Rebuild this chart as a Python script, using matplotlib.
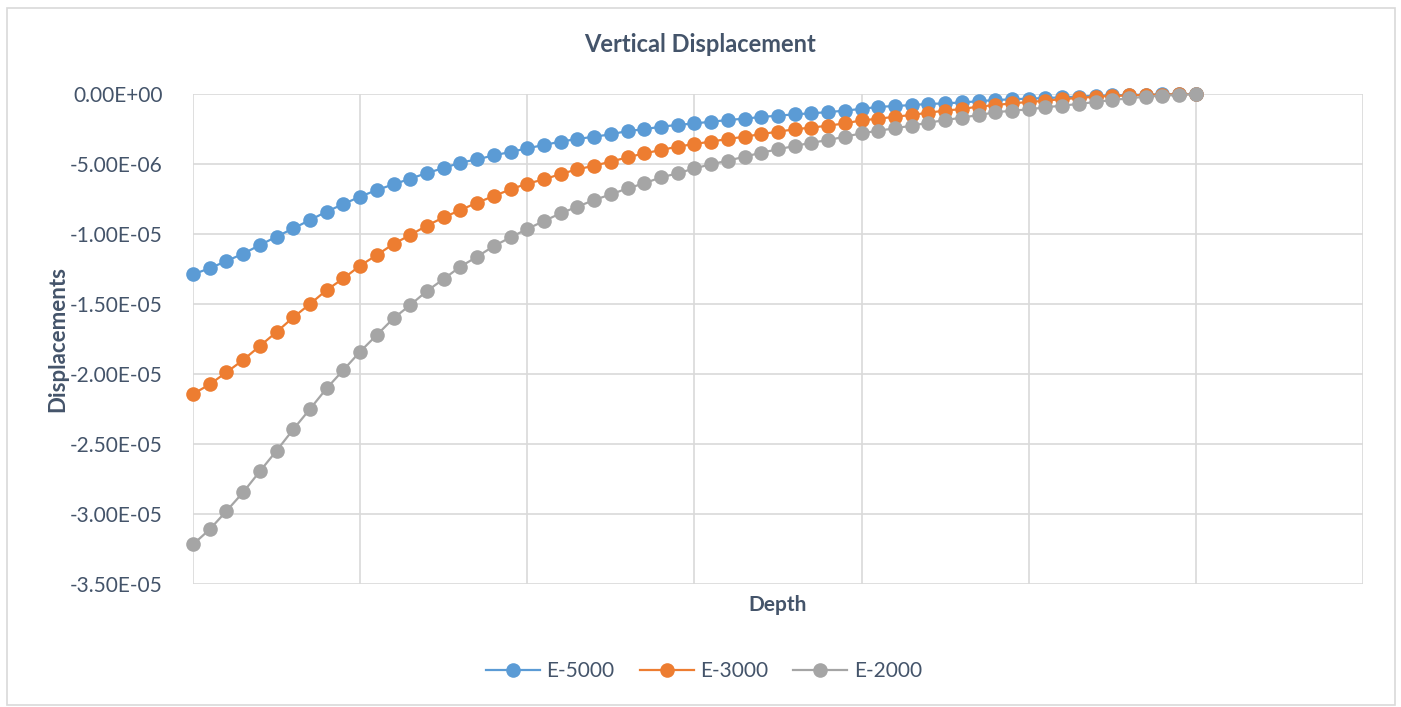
import numpy as np
import matplotlib.pyplot as plt
from matplotlib.patches import Rectangle

# Depth index (61 sample points, no tick labels in the original chart)
depth = np.arange(61)

# Vertical displacement per depth point, in units of 1e-6
e5000 = [-12.88, -12.45, -11.93, -11.41, -10.79, -10.19, -9.60, -9.00, -8.40, -7.86,
         -7.33, -6.86, -6.45, -6.05, -5.64, -5.29, -4.90, -4.67, -4.38, -4.14,
         -3.88, -3.64, -3.40, -3.21, -3.05, -2.88, -2.64, -2.52, -2.33, -2.21,
         -2.10, -1.98, -1.86, -1.76, -1.64, -1.55, -1.45, -1.38, -1.29, -1.19,
         -1.06, -0.92, -0.86, -0.79, -0.71, -0.67, -0.60, -0.52, -0.43, -0.38,
         -0.33, -0.29, -0.24, -0.19, -0.12, -0.10, -0.07, -0.05, -0.03, -0.01,
         0.00]
e3000 = [-21.43, -20.74, -19.88, -19.00, -18.00, -17.00, -15.95, -15.00, -14.00, -13.17,
         -12.26, -11.50, -10.71, -10.07, -9.40, -8.81, -8.29, -7.76, -7.29, -6.81,
         -6.40, -6.10, -5.71, -5.38, -5.12, -4.83, -4.52, -4.24, -4.00, -3.76,
         -3.57, -3.40, -3.21, -3.05, -2.86, -2.69, -2.52, -2.40, -2.26, -2.10,
         -1.88, -1.77, -1.62, -1.50, -1.33, -1.19, -1.07, -0.90, -0.79, -0.67,
         -0.57, -0.48, -0.36, -0.29, -0.19, -0.14, -0.10, -0.07, -0.04, -0.02,
         0.00]
e2000 = [-32.17, -31.10, -29.79, -28.45, -26.95, -25.48, -23.95, -22.50, -21.02, -19.71,
         -18.40, -17.21, -16.02, -15.07, -14.07, -13.21, -12.33, -11.62, -10.86, -10.24,
         -9.64, -9.07, -8.52, -8.05, -7.57, -7.17, -6.74, -6.38, -5.95, -5.67,
         -5.31, -5.02, -4.76, -4.48, -4.19, -3.95, -3.71, -3.48, -3.29, -3.05,
         -2.81, -2.62, -2.45, -2.26, -2.05, -1.86, -1.69, -1.50, -1.31, -1.19,
         -1.10, -0.95, -0.83, -0.71, -0.57, -0.43, -0.31, -0.19, -0.12, -0.07,
         0.00]

series_names = ["E-5000", "E-3000", "E-2000"]
series_values = [e5000, e3000, e2000]
series_colors = ["#5B9BD5", "#ED7D31", "#A5A5A5"]

y_ticks = np.arange(0, -3.51e-5, -5e-6)
text_color = "#44546A"

plt.rcParams['font.family'] = ['Lato', 'DejaVu Sans']

fig = plt.figure(figsize=(14.01, 7.07), dpi=100)
ax = fig.add_axes([193 / 1401, 1 - 584 / 707, (1363 - 193) / 1401, (584 - 94) / 707])

for name, vals, col in zip(series_names, series_values, series_colors):
    ax.plot(depth, np.array(vals) * 1e-6, color=col, lw=1.6, marker='o',
            markersize=10.5, markeredgewidth=0, label=name, zorder=3, clip_on=False)

ax.set_xlim(0, 70)
ax.set_ylim(-3.5e-5, 0)
ax.set_xticks(np.arange(0, 71, 10))
ax.set_yticks(y_ticks)
ax.set_yticklabels([f"{v:.2E}" for v in y_ticks])
ax.tick_params(axis='x', labelbottom=False, length=0)
ax.tick_params(axis='y', length=0, pad=22, labelsize=15, labelcolor=text_color)
ax.grid(True, color="#D9D9D9", lw=1.2, zorder=0)
for s in ax.spines.values():
    s.set_visible(False)

ax.set_xlabel("Depth", fontsize=15, fontweight='bold', color=text_color, labelpad=8)
ax.set_ylabel("Displacements", fontsize=16, fontweight='bold', color=text_color, labelpad=1)
fig.text(700 / 1401, 1 - 45 / 707, "Vertical Displacement", ha='center', va='center',
         fontsize=17, fontweight='bold', color=text_color)

fig.legend(loc='center', bbox_to_anchor=(704 / 1401, 1 - 671 / 707), ncol=3,
           frameon=False, fontsize=15, labelcolor=text_color, handlelength=2.6,
           columnspacing=1.2, handletextpad=0.3)

# outer chart border
fig.patches.append(Rectangle((7 / 1401, 2 / 707), 1388 / 1401, 697 / 707,
                             transform=fig.transFigure, fill=False,
                             edgecolor="#D9D9D9", lw=1.2))

fig.savefig("out.png", dpi=100)
